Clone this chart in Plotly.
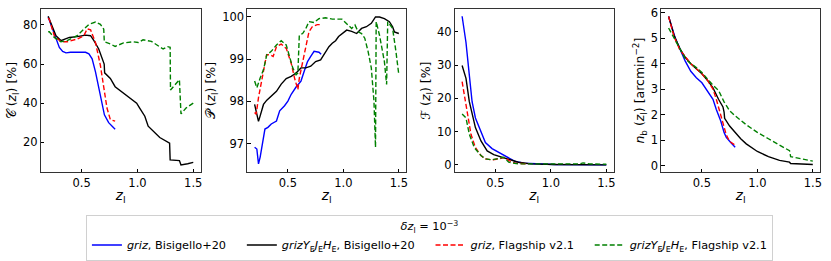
import plotly.graph_objects as go

# ---------------- data ----------------
# Panel 1: completeness C(z_l) [%]
c_blue_x = [0.2, 0.21, 0.24, 0.27, 0.3, 0.33, 0.36, 0.4, 0.46, 0.535, 0.565, 0.594, 0.624, 0.653, 0.683, 0.704, 0.742, 0.8]
c_blue_y = [84.0, 82.5, 77.5, 72.5, 68.5, 66.5, 65.7, 66.0, 66.0, 66.0, 65.2, 62.7, 56.0, 47.6, 40.8, 34.0, 30.0, 26.6]
c_black_x = [0.2, 0.24, 0.27, 0.314, 0.36, 0.39, 0.46, 0.535, 0.58, 0.61, 0.653, 0.683, 0.702, 0.706, 0.757, 0.8, 0.875, 0.95, 0.993, 1.02, 1.066, 1.096, 1.14, 1.2, 1.288, 1.293, 1.376, 1.39, 1.45, 1.5]
c_black_y = [84.5, 78.7, 74.5, 72.0, 72.8, 73.6, 74.0, 74.8, 74.5, 72.0, 67.7, 62.7, 60.0, 55.5, 52.6, 48.4, 45.0, 41.7, 40.0, 37.5, 33.3, 28.2, 25.7, 22.4, 19.5, 11.0, 10.6, 8.4, 9.0, 9.7]
c_red_x = [0.2, 0.21, 0.255, 0.314, 0.37, 0.46, 0.52, 0.55, 0.58, 0.624, 0.668, 0.698, 0.727, 0.757, 0.8]
c_red_y = [83.5, 82.9, 74.5, 71.4, 71.4, 72.8, 74.5, 78.0, 77.5, 71.0, 59.3, 47.6, 37.5, 31.6, 30.8]
c_green_x = [0.2, 0.21, 0.255, 0.314, 0.37, 0.46, 0.52, 0.565, 0.624, 0.668, 0.698, 0.703, 0.757, 0.8, 0.875, 0.963, 1.007, 1.05, 1.125, 1.184, 1.23, 1.27, 1.293, 1.296, 1.376, 1.39, 1.435, 1.5]
c_green_y = [76.5, 76.5, 73.6, 71.4, 72.0, 74.5, 77.8, 80.3, 81.5, 80.3, 77.8, 71.4, 70.3, 69.0, 70.8, 71.4, 71.0, 72.4, 71.6, 69.4, 67.7, 68.9, 68.6, 46.7, 52.0, 34.5, 37.5, 40.0]

# Panel 2: purity P(z_l) [%]
p_blue_x = [0.2, 0.22, 0.235, 0.25, 0.293, 0.32, 0.35, 0.397, 0.426, 0.47, 0.5, 0.53, 0.574, 0.618, 0.647, 0.677, 0.706, 0.736, 0.78, 0.8]
p_blue_y = [96.92, 96.88, 96.53, 96.69, 97.35, 97.39, 97.47, 97.54, 97.78, 97.9, 98.01, 98.17, 98.34, 98.48, 98.71, 98.94, 99.06, 99.18, 99.16, 99.11]
p_black_x = [0.2, 0.22, 0.235, 0.25, 0.28, 0.31, 0.35, 0.397, 0.44, 0.485, 0.53, 0.574, 0.618, 0.662, 0.706, 0.75, 0.795, 0.825, 0.87, 0.9, 0.93, 0.957, 0.987, 1.03, 1.075, 1.12, 1.164, 1.208, 1.252, 1.29, 1.326, 1.37, 1.415, 1.444, 1.46, 1.5]
p_black_y = [97.93, 97.7, 97.53, 97.66, 97.93, 98.03, 98.13, 98.24, 98.41, 98.54, 98.59, 98.67, 98.79, 98.79, 98.83, 98.94, 98.98, 99.1, 99.29, 99.37, 99.43, 99.53, 99.6, 99.68, 99.65, 99.6, 99.72, 99.76, 99.84, 99.99, 99.99, 99.95, 99.88, 99.76, 99.64, 99.6]
p_red_x = [0.2, 0.214, 0.235, 0.264, 0.293, 0.308, 0.338, 0.367, 0.397, 0.44, 0.485, 0.53, 0.56, 0.59, 0.603, 0.633, 0.647, 0.677, 0.69, 0.72, 0.765, 0.8]
p_red_y = [97.74, 97.7, 98.09, 98.48, 98.83, 99.1, 99.1, 99.06, 99.29, 99.35, 99.25, 98.9, 98.55, 98.28, 98.55, 98.94, 99.14, 99.49, 99.64, 99.76, 99.81, 99.81]
p_green_x = [0.2, 0.22, 0.25, 0.28, 0.31, 0.35, 0.397, 0.44, 0.485, 0.515, 0.544, 0.574, 0.59, 0.603, 0.633, 0.662, 0.69, 0.736, 0.78, 0.84, 0.9, 0.987, 1.03, 1.075, 1.105, 1.134, 1.164, 1.193, 1.223, 1.252, 1.276, 1.29, 1.296, 1.326, 1.37, 1.39, 1.4, 1.444, 1.474, 1.5]
p_green_y = [98.48, 98.32, 98.55, 98.75, 99.1, 99.18, 99.33, 99.43, 99.33, 99.02, 98.79, 98.63, 98.67, 99.56, 99.6, 99.72, 99.88, 99.86, 99.95, 99.97, 99.94, 99.94, 99.84, 99.72, 99.8, 99.64, 99.6, 99.49, 99.18, 98.79, 98.01, 96.92, 99.88, 99.56, 98.94, 98.4, 99.88, 99.72, 99.18, 98.63]

# Panel 3: fraction F(z_l) [%]
f_blue_x = [0.2, 0.235, 0.265, 0.29, 0.32, 0.37, 0.41, 0.47, 0.53, 0.59, 0.68, 0.76, 0.88, 1.03, 1.5]
f_blue_y = [44.7, 36.8, 27.0, 19.0, 14.1, 9.7, 6.7, 4.9, 3.75, 2.5, 1.0, 0.5, 0.3, 0.1, 0.0]
f_black_x = [0.2, 0.235, 0.265, 0.29, 0.32, 0.37, 0.426, 0.485, 0.56, 0.62, 0.706, 0.82, 1.03, 1.5]
f_black_y = [29.9, 26.0, 19.0, 15.1, 11.2, 7.2, 4.2, 3.1, 2.3, 1.5, 0.8, 0.3, 0.1, 0.0]
f_red_x = [0.2, 0.23, 0.25, 0.28, 0.32, 0.37, 0.41, 0.47, 0.53, 0.59, 0.62, 0.68, 0.8]
f_red_y = [25.0, 19.0, 14.1, 9.2, 5.2, 2.8, 1.8, 1.5, 1.8, 2.3, 1.3, 0.5, 0.3]
f_green_x = [0.2, 0.235, 0.265, 0.31, 0.37, 0.41, 0.47, 0.53, 0.575, 0.62, 0.706, 1.03, 1.26, 1.29, 1.35, 1.5]
f_green_y = [15.3, 14.1, 9.2, 5.2, 2.8, 1.8, 1.5, 1.9, 2.3, 0.8, 0.3, 0.3, 0.3, 0.6, 0.3, 0.2]

# Panel 4: number density n_b(z_l) [arcmin^-2]
n_blue_x = [0.2, 0.23, 0.26, 0.3, 0.35, 0.4, 0.45, 0.5, 0.55, 0.6, 0.63, 0.67, 0.7, 0.72, 0.76, 0.8]
n_blue_y = [5.85, 5.4, 5.0, 4.6, 4.1, 3.7, 3.45, 3.25, 2.95, 2.6, 2.2, 1.75, 1.3, 1.1, 0.9, 0.72]
n_black_x = [0.2, 0.25, 0.3, 0.35, 0.4, 0.45, 0.5, 0.55, 0.6, 0.65, 0.69, 0.7, 0.705, 0.75, 0.8, 0.85, 0.9, 0.95, 1.0, 1.1, 1.2, 1.29, 1.3, 1.4, 1.5]
n_black_y = [5.85, 5.1, 4.6, 4.25, 4.0, 3.8, 3.6, 3.35, 3.05, 2.6, 2.3, 2.1, 1.85, 1.55, 1.3, 1.05, 0.85, 0.7, 0.55, 0.35, 0.2, 0.13, 0.08, 0.06, 0.04]
n_red_x = [0.2, 0.25, 0.3, 0.35, 0.4, 0.45, 0.5, 0.55, 0.6, 0.63, 0.66, 0.69, 0.72, 0.75, 0.8]
n_red_y = [5.85, 5.05, 4.55, 4.25, 4.0, 3.8, 3.6, 3.35, 3.0, 2.6, 2.1, 1.6, 1.2, 0.95, 0.8]
n_green_x = [0.2, 0.25, 0.3, 0.35, 0.4, 0.45, 0.5, 0.55, 0.6, 0.65, 0.7, 0.75, 0.8, 0.9, 1.0, 1.1, 1.2, 1.29, 1.3, 1.4, 1.5]
n_green_y = [5.4, 5.0, 4.6, 4.2, 4.0, 3.85, 3.65, 3.4, 3.15, 2.95, 2.5, 2.15, 1.95, 1.6, 1.3, 1.05, 0.8, 0.58, 0.35, 0.25, 0.17]

series_names = [
    "<i>griz</i>, Bisigello+20",
    "<i>grizY</i><sub>E</sub><i>J</i><sub>E</sub><i>H</i><sub>E</sub>, Bisigello+20",
    "<i>griz</i>, Flagship v2.1",
    "<i>grizY</i><sub>E</sub><i>J</i><sub>E</sub><i>H</i><sub>E</sub>, Flagship v2.1",
]
legend_title = "<i>δz</i><sub>l</sub> = 10<sup>−3</sup>"

y_titles = [
    "𝒞 (<i>z</i><sub>l</sub>) [%]",
    "𝒫 (<i>z</i><sub>l</sub>) [%]",
    "ℱ (<i>z</i><sub>l</sub>) [%]",
    "<i>n</i><sub>b</sub> (<i>z</i><sub>l</sub>) [arcmin<sup>−2</sup>]",
]
y_ticks = [[20, 40, 60, 80], [97, 98, 99, 100], [0, 10, 20, 30, 40], [0, 1, 2, 3, 4, 5, 6]]
y_ranges = [[4.6, 88.2], [96.33, 100.18], [-2.25, 46.9], [-0.27, 6.15]]
x_ticks = [0.5, 1.0, 1.5]
x_ticklabels = ["0.5", "1.0", "1.5"]

panels = [
    [(c_blue_x, c_blue_y), (c_black_x, c_black_y), (c_red_x, c_red_y), (c_green_x, c_green_y)],
    [(p_blue_x, p_blue_y), (p_black_x, p_black_y), (p_red_x, p_red_y), (p_green_x, p_green_y)],
    [(f_blue_x, f_blue_y), (f_black_x, f_black_y), (f_red_x, f_red_y), (f_green_x, f_green_y)],
    [(n_blue_x, n_blue_y), (n_black_x, n_black_y), (n_red_x, n_red_y), (n_green_x, n_green_y)],
]

# ---------------- styling ----------------
colors = ["#0000ff", "#000000", "#ff0000", "#008000"]
dashes = ["solid", "solid", "5px,2.5px", "5px,2.5px"]
W, H = 831, 261
x_px = [(41, 201), (248, 407), (456, 615), (663, 822)]
y_px = (6, 172)
FONT = "DejaVu Sans"
PAD = "&nbsp;" * 3

fig = go.Figure()
for p, panel in enumerate(panels):
    ax = "" if p == 0 else str(p + 1)
    for s, (xs, ys) in enumerate(panel):
        fig.add_trace(go.Scatter(
            x=xs, y=ys, mode="lines",
            line=dict(color=colors[s], width=1.4, dash=dashes[s]),
            name=series_names[s] + (PAD if s < 3 else ""), showlegend=(p == 0),
            xaxis="x" + ax, yaxis="y" + ax,
        ))

layout = dict(
    width=W, height=H,
    margin=dict(l=0, r=0, t=0, b=0),
    paper_bgcolor="white", plot_bgcolor="white",
    font=dict(family=FONT, size=11.3, color="black"),
    showlegend=True,
    legend=dict(
        orientation="h", x=0.518, xanchor="center", y=0.176, yanchor="top",
        bordercolor="#d0d0d0", borderwidth=1, bgcolor="white",
        font=dict(size=11.3), itemwidth=30,
        title=dict(text=legend_title, side="top center", font=dict(size=11.3)),
        tracegroupgap=0,
    ),
)
for p in range(4):
    ax = "" if p == 0 else str(p + 1)
    x0, x1 = x_px[p]
    layout["xaxis" + ax] = dict(
        domain=[x0 / W, x1 / W], anchor="y" + ax,
        range=[0.135, 1.565], tickvals=x_ticks, ticktext=x_ticklabels,
        ticks="inside", ticklen=3.5, tickwidth=1, tickcolor="black",
        showline=True, linecolor="#333333", linewidth=1, mirror=True,
        showgrid=False, zeroline=False,
        title=dict(text="<i>z</i><sub>l</sub>", standoff=1, font=dict(size=13.5)),
        tickfont=dict(size=11.5),
    )
    layout["yaxis" + ax] = dict(
        domain=[(H - y_px[1]) / H, (H - y_px[0]) / H], anchor="x" + ax,
        range=y_ranges[p], tickvals=y_ticks[p],
        ticks="inside", ticklen=3.5, tickwidth=1, tickcolor="black",
        showline=True, linecolor="#333333", linewidth=1, mirror=True,
        showgrid=False, zeroline=False,
        title=dict(text=y_titles[p], standoff=3, font=dict(size=12.5)),
        tickfont=dict(size=11.5),
    )
fig.update_layout(**layout)
fig.write_html(
    "out.html",
    config={"displayModeBar": False},
    post_script="document.body.style.margin='0';document.body.style.overflow='hidden';",
)
